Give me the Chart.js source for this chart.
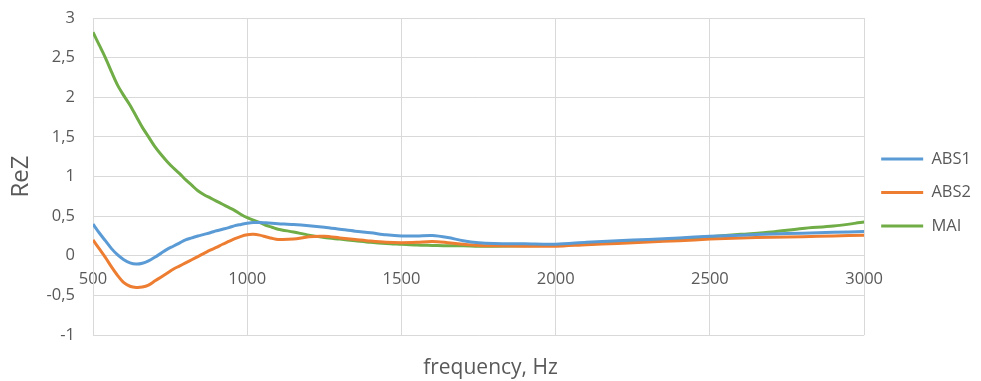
<!DOCTYPE html>
<html>
<head>
<meta charset="utf-8">
<script src="https://cdn.jsdelivr.net/npm/chart.js@4"></script>
<style>
  html, body { margin: 0; padding: 0; background: #ffffff; }
  #wrap { width: 981px; height: 381px; }
</style>
</head>
<body>
<div id="wrap"><canvas id="c" width="981" height="381"></canvas></div>
<script>
const freq = [500, 520, 540, 560, 580, 600, 620, 640, 660, 680, 700, 720, 740, 760, 780, 800, 820, 840, 860, 880, 900, 920, 940, 960, 980, 1000, 1020, 1040, 1060, 1080, 1100, 1150, 1200, 1250, 1300, 1350, 1400, 1450, 1500, 1550, 1600, 1650, 1700, 1750, 1800, 1900, 2000, 2100, 2200, 2300, 2400, 2500, 2600, 2700, 2800, 2900, 3000];

const abs1 = [0.40, 0.29, 0.19, 0.09, 0.01, -0.05, -0.09, -0.105, -0.095, -0.065, -0.02, 0.03, 0.08, 0.12, 0.16, 0.20, 0.225, 0.25, 0.27, 0.29, 0.315, 0.335, 0.355, 0.38, 0.395, 0.41, 0.42, 0.42, 0.415, 0.41, 0.405, 0.395, 0.38, 0.36, 0.335, 0.31, 0.29, 0.265, 0.25, 0.25, 0.255, 0.23, 0.19, 0.165, 0.155, 0.15, 0.145, 0.17, 0.19, 0.205, 0.225, 0.245, 0.26, 0.275, 0.285, 0.295, 0.305];

const abs2 = [0.20, 0.09, -0.02, -0.14, -0.25, -0.34, -0.385, -0.40, -0.395, -0.37, -0.32, -0.27, -0.22, -0.17, -0.13, -0.09, -0.05, -0.01, 0.03, 0.07, 0.105, 0.145, 0.18, 0.215, 0.245, 0.265, 0.27, 0.26, 0.24, 0.22, 0.205, 0.21, 0.24, 0.245, 0.225, 0.205, 0.185, 0.17, 0.165, 0.17, 0.18, 0.165, 0.145, 0.13, 0.125, 0.12, 0.12, 0.14, 0.155, 0.175, 0.19, 0.21, 0.225, 0.235, 0.24, 0.25, 0.26];

const mai = [2.82, 2.66, 2.50, 2.32, 2.15, 2.02, 1.90, 1.76, 1.62, 1.50, 1.38, 1.28, 1.19, 1.11, 1.04, 0.96, 0.89, 0.82, 0.77, 0.73, 0.69, 0.65, 0.61, 0.57, 0.52, 0.48, 0.45, 0.42, 0.385, 0.36, 0.335, 0.30, 0.26, 0.23, 0.21, 0.19, 0.17, 0.155, 0.145, 0.135, 0.13, 0.125, 0.125, 0.12, 0.12, 0.125, 0.135, 0.155, 0.175, 0.195, 0.215, 0.24, 0.27, 0.30, 0.345, 0.375, 0.425];

const seriesNames = ['ABS1', 'ABS2', 'MAI'];
const seriesColors = ['#5B9BD5', '#ED7D31', '#70AD47'];
const xTicks = [500, 1000, 1500, 2000, 2500, 3000];
const yMin = -1, yMax = 3, yStep = 0.5;
const xTitle = 'frequency, Hz';
const yTitle = 'ReZ';

const FONT = '"Open Sans", "DejaVu Sans", sans-serif';
const TEXT = '#595959';
const GRID = '#D9D9D9';

function toPoints(vals) { return freq.map((f, i) => ({ x: f, y: vals[i] })); }
const seriesValues = [abs1, abs2, mai];

const datasets = seriesNames.map((name, i) => ({
  label: name,
  data: toPoints(seriesValues[i]),
  borderColor: seriesColors[i],
  backgroundColor: seriesColors[i],
  borderWidth: 3,
  pointRadius: 0,
  tension: 0.3,
  fill: false
}));

new Chart(document.getElementById('c'), {
  type: 'line',
  data: { datasets },
  options: {
    responsive: false,
    animation: false,
    layout: { padding: { left: 0, right: 0, top: 4, bottom: 0 } },
    scales: {
      x: {
        type: 'linear',
        min: 500, max: 3000,
        position: { y: 0 },
        afterBuildTicks: (s) => { s.ticks = xTicks.map(v => ({ value: v })); },
        afterFit: (s) => { s.paddingLeft = 0; s.paddingRight = 0; s.paddingTop = 0; s.paddingBottom = 0; },
        ticks: { color: TEXT, font: { family: FONT, size: 16.5 }, padding: 14, maxRotation: 0, autoSkip: false,
          callback: (v) => String(v) },
        grid: { color: GRID, lineWidth: 1, drawTicks: false },
        border: { color: GRID, width: 1 }
      },
      y: {
        min: yMin, max: yMax,
        ticks: {
          stepSize: yStep,
          color: TEXT,
          font: { family: FONT, size: 16.5 },
          padding: 18,
          callback: (v) => String(v).replace('.', ',')
        },
        grid: { color: GRID, lineWidth: 1, drawTicks: false },
        border: { color: GRID, width: 1 },
        title: { display: true, text: yTitle, color: TEXT, font: { family: FONT, size: 24 }, padding: { top: 7, bottom: 0 } },
        afterFit: (s) => { s.width = 93; s.paddingTop = 18; s.paddingBottom = 0; }
      }
    },
    plugins: {
      legend: {
        position: 'right',
        labels: {
          color: TEXT,
          font: { family: FONT, size: 16.5 },
          boxWidth: 42,
          boxHeight: 3,
          padding: 17,
          generateLabels: (chart) => chart.data.datasets.map((d, i) => ({
            text: d.label, fillStyle: d.borderColor, strokeStyle: d.borderColor,
            lineWidth: 0, hidden: false, datasetIndex: i, fontColor: TEXT
          }))
        }
      },
      title: {
        display: true,
        position: 'bottom',
        text: xTitle,
        color: TEXT,
        font: { family: FONT, size: 21, weight: 'normal' },
        padding: { top: 20.8, bottom: 0 }
      },
      tooltip: { enabled: false }
    }
  }
});
</script>
</body>
</html>
